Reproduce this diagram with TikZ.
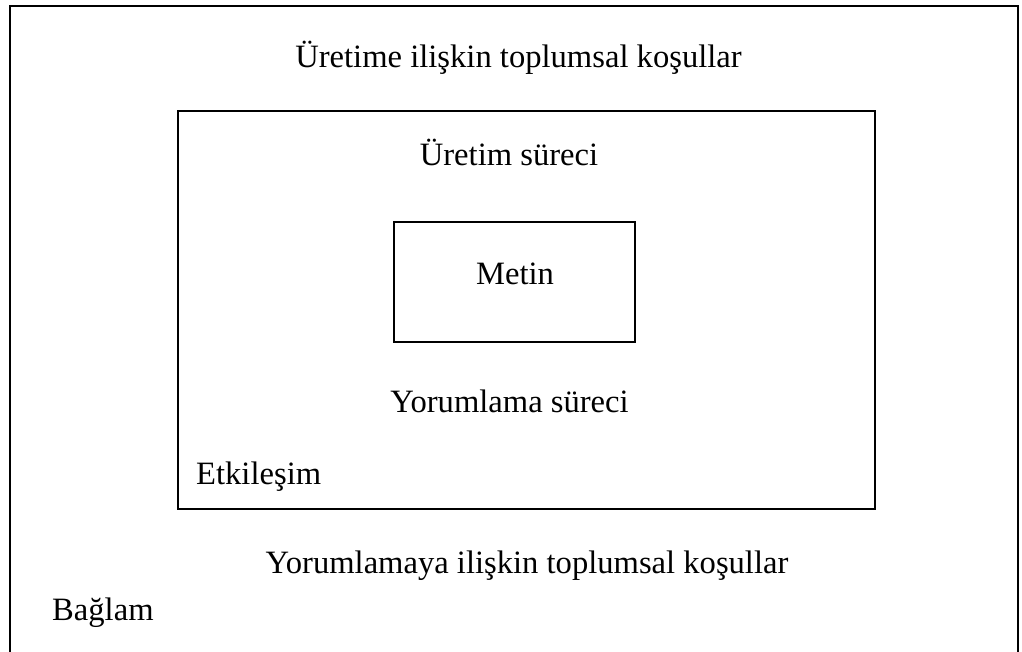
\documentclass[tikz,border=0pt]{standalone}
\usepackage{fontspec}
\setmainfont{Liberation Serif}
\begin{document}
\begin{tikzpicture}[x=1pt,y=-1pt,
  lbl/.style={inner sep=0pt,font=\fontsize{32.6}{39}\selectfont},
  boxline/.style={draw=black,line width=2pt}]
\useasboundingbox (0,0) rectangle (1022,651);
\begin{scope}
\clip (0,0) rectangle (1022,651);
\coordinate (obl) at (10,660);
\coordinate (obr) at (1018,660);
\draw[boxline] (obl) -- (10,6) -- (1018,6) -- (obr);
\end{scope}
\node[boxline,inner sep=0pt,minimum width=697pt,minimum height=398pt] (mid) at (526.5,310) {};
\node[boxline,inner sep=0pt,minimum width=241pt,minimum height=120pt] (inner) at (514.5,282) {};
\node[lbl,anchor=base] (t1) at (518.5,67) {Üretime ilişkin toplumsal koşullar};
\node[lbl,anchor=base] (t2) at (509,165) {Üretim süreci};
\node[lbl,anchor=base] (t3) at (515,284) {Metin};
\node[lbl,anchor=base] (t4) at (509.5,412) {Yorumlama süreci};
\node[lbl,anchor=base west] (t5) at (196,484) {Etkileşim};
\node[lbl,anchor=base] (t6) at (527,573) {Yorumlamaya ilişkin toplumsal koşullar};
\node[lbl,anchor=base west] (t7) at (52,620) {Bağlam};
\end{tikzpicture}
\end{document}
